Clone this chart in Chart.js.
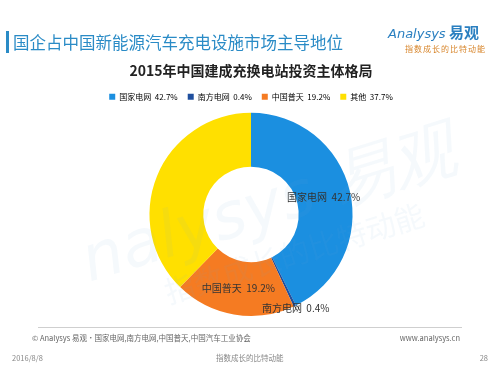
<!DOCTYPE html>
<html>
<head>
<meta charset="utf-8">
<script src="https://cdn.jsdelivr.net/npm/chart.js@4.4.0/dist/chart.umd.min.js"></script>
<style>
  body { margin: 0; background: #fff; font-family: "Noto Sans CJK SC", "Noto Sans", sans-serif; }
  #wrap { position: relative; width: 500px; height: 375px; overflow: hidden; }
  #chart { position: absolute; left: 0; top: 0; }
  .abs { position: absolute; white-space: nowrap; }
  #bar { left: 6px; top: 31px; width: 3px; height: 22px; background: #2a8bc6; }
  #head { left: 13px; top: 30px; font-size: 16.5px; color: #2a8bc6; }
  #logo { left: 388px; top: 21px; font-size: 15px; color: #2a7fc0; font-weight: bold; }
  #logo i { font-family: "DejaVu Sans", sans-serif; font-weight: normal; font-size: 13px; }
  #slogan { left: 405px; top: 43px; font-size: 8px; color: #d8862c; letter-spacing: 1px; }
  #rule { left: 38px; top: 327px; width: 424px; height: 1px; background: #cfcfcf; }
  .foot { font-size: 7.5px; color: #666; }
</style>
</head>
<body>
<div id="wrap">
  <canvas id="chart" width="500" height="375"></canvas>
  <div class="abs" id="bar"></div>
  <div class="abs" id="head">国企占中国新能源汽车充电设施市场主导地位</div>
  <div class="abs" id="logo"><i>Analysys</i> 易观</div>
  <div class="abs" id="slogan">指数成长的比特动能</div>
  <div class="abs" id="rule"></div>
  <div class="abs foot" style="left:32px;top:332px;">© Analysys 易观·国家电网,南方电网,中国普天,中国汽车工业协会</div>
  <div class="abs foot" style="right:40px;top:332px;">www.analysys.cn</div>
  <div class="abs foot" style="left:12px;top:352px;color:#888;">2016/8/8</div>
  <div class="abs foot" style="left:216px;top:352px;color:#888;">指数成长的比特动能</div>
  <div class="abs foot" style="right:12px;top:352px;color:#888;">28</div>
</div>
<script>
// data
const companies = ["国家电网", "南方电网", "中国普天", "其他"];
const shares = [42.7, 0.4, 19.2, 37.7];
const colors = ["#1b8fe0", "#1f4f9e", "#f57b22", "#ffe000"];
const showSliceLabel = [true, true, true, false];

const font = "Noto Sans CJK SC";

// slice labels: inside ring for big slices, just outside for the thin one
const sliceLabels = {
  id: "sliceLabels",
  afterDatasetsDraw(chart) {
    const { ctx } = chart;
    const arcs = chart.getDatasetMeta(0).data;
    ctx.save();
    ctx.font = `10px "${font}"`;
    ctx.fillStyle = "#333";
    ctx.textAlign = "center";
    ctx.textBaseline = "middle";
    arcs.forEach((arc, i) => {
      if (!showSliceLabel[i]) return;
      const mid = (arc.startAngle + arc.endAngle) / 2;
      const small = shares[i] < 2;
      const r = small ? arc.outerRadius + 2 : (arc.innerRadius + arc.outerRadius) / 2;
      const x = arc.x + Math.cos(mid) * r;
      const y = arc.y + Math.sin(mid) * r;
      ctx.fillText(`${companies[i]}  ${shares[i]}%`, x, y);
    });
    ctx.restore();
  }
};

// faint brand watermark across the ring
const watermark = {
  id: "watermark",
  afterDatasetsDraw(chart) {
    const { ctx } = chart;
    const arc = chart.getDatasetMeta(0).data[0];
    ctx.save();
    ctx.translate(arc.x, arc.y);
    ctx.rotate(-0.3);
    ctx.globalAlpha = 0.07;
    ctx.fillStyle = "#6fa8d4";
    ctx.font = `italic 64px "DejaVu Sans"`;
    ctx.textAlign = "center";
    ctx.fillText("nalysys 易观", 20, 0);
    ctx.font = `30px "${font}"`;
    ctx.fillText("指数成长的比特动能", 30, 50);
    ctx.restore();
  }
};

new Chart(document.getElementById("chart"), {
  type: "doughnut",
  data: {
    labels: companies,
    datasets: [{
      data: shares,
      backgroundColor: colors,
      borderWidth: 0
    }]
  },
  options: {
    responsive: false,
    animation: false,
    cutout: "47%",
    radius: "98%",
    layout: { padding: { top: 58, bottom: 57, left: 2, right: 0 } },
    plugins: {
      title: {
        display: true,
        text: "2015年中国建成充换电站投资主体格局",
        color: "#222",
        font: { family: font, size: 14, weight: "bold" },
        padding: { top: 4, bottom: 4 }
      },
      legend: {
        position: "top",
        labels: {
          font: { family: font, size: 8 },
          color: "#444",
          boxWidth: 6,
          boxHeight: 6,
          padding: 10,
          generateLabels(chart) {
            return companies.map((c, i) => ({
              text: `${c}  ${shares[i]}%`,
              fillStyle: colors[i],
              strokeStyle: colors[i],
              lineWidth: 0,
              hidden: false,
              index: i
            }));
          }
        }
      },
      tooltip: { enabled: false }
    }
  },
  plugins: [sliceLabels, watermark]
});
</script>
</body>
</html>
